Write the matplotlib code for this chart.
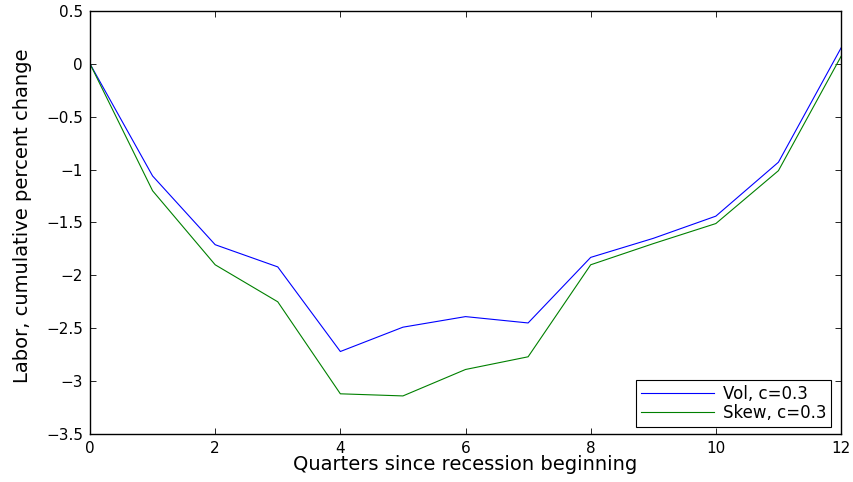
import matplotlib.pyplot as plt
import numpy as np

plt.rcParams['font.family'] = ['DejaVu Sans']

quarters = np.arange(13)
vol = [0.0, -1.06, -1.71, -1.92, -2.72, -2.49, -2.39, -2.45, -1.83, -1.65, -1.44, -0.93, 0.15]
skew = [0.0, -1.20, -1.90, -2.25, -3.12, -3.14, -2.89, -2.77, -1.90, -1.70, -1.51, -1.01, 0.07]

fig = plt.figure(figsize=(8.54, 4.82), dpi=100)
ax = fig.add_axes([0.1054, 0.0996, 0.8794, 0.8776])

ax.plot(quarters, vol, color='#0000ff', lw=0.8, label='Vol, c=0.3')
ax.plot(quarters, skew, color='#008000', lw=0.8, label='Skew, c=0.3')

ax.set_xlim(0, 12)
ax.set_ylim(-3.5, 0.5)
ax.set_xticks(np.arange(0, 13, 2))
ax.set_yticks(np.arange(-3.5, 0.51, 0.5))
ax.set_yticklabels(['\u22123.5', '\u22123', '\u22122.5', '\u22122', '\u22121.5', '\u22121', '\u22120.5', '0', '0.5'])
ax.tick_params(direction='in', top=True, right=True, length=4, width=0.6, labelsize=11, pad=5)
for s in ax.spines.values():
    s.set_linewidth(1.0)

ax.set_xlabel('Quarters since recession beginning', fontsize=14)
ax.set_ylabel('Labor, cumulative percent change', fontsize=14)
ax.xaxis.set_label_coords(0.5, -0.05)
ax.yaxis.set_label_coords(-0.077, 0.515)

# legend box anchored just inside the lower-right corner
leg = ax.legend(loc='lower right', bbox_to_anchor=(0.9731, 0.1141),
                bbox_transform=fig.transFigure, borderaxespad=0,
                fontsize=12, fancybox=False, framealpha=1,
                edgecolor='black', borderpad=0.3, handlelength=4.4,
                handletextpad=0.5, labelspacing=0.05)
leg.get_frame().set_linewidth(0.8)

fig.savefig('out.png', dpi=100, facecolor='white')
